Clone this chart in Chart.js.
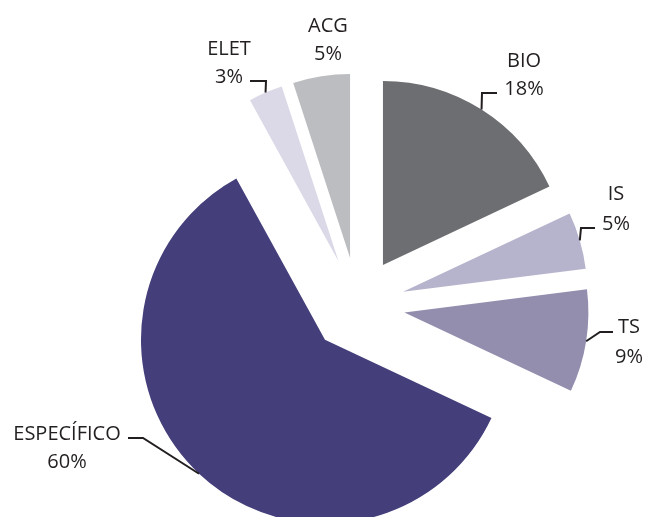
<!DOCTYPE html>
<html>
<head>
<meta charset="utf-8">
<script src="https://cdn.jsdelivr.net/npm/chart.js@4.4.0/dist/chart.umd.min.js"></script>
<style>
    html, body { margin: 0; padding: 0; background: #fff; }
    #contenedor { width: 651px; height: 517px; }
</style>
</head>
<body>
<div id="contenedor"><canvas id="chartAreas"></canvas></div>
<script>
// Datos de la gráfica (orden horario desde arriba)
const categorias = ['BIO', 'IS', 'TS', 'ESPECÍFICO', 'ELET', 'ACG'];
const porcentajes = [18, 5, 9, 60, 3, 5];
const etiquetas = ['18%', '5%', '9%', '60%', '3%', '5%'];

const colores = ['#6d6e71', '#b6b3cc', '#938dae', '#443f7b', '#dbd9e7', '#bcbdc0'];

const DESPLAZAMIENTO = 47.5; // separación de cada porción respecto al centro
const RADIO = 184;

// Posición de los textos y del codo de las líneas guía
const layoutEtiquetas = [
    { codo: [482, 93], fin: [497, 93], texto: [524, 67], salto: 28 },
    { codo: [581, 228], fin: [595, 228], texto: [616, 200], salto: 30 },
    { codo: [600, 332], fin: [613, 332], texto: [629, 333], salto: 30 },
    { codo: [143, 438], fin: [128, 438], texto: [67, 440], salto: 28 },
    { codo: [266, 81], fin: [250, 81], texto: [229, 55], salto: 28 },
    { codo: null, fin: null, texto: [328, 32], salto: 28 }
];

// Separa las porciones moviendo cada arco sobre su ángulo medio
const separar = {
    id: 'separar',
    afterDatasetsUpdate(chart) {
        const { chartArea } = chart;
        const cx = (chartArea.left + chartArea.right) / 2;
        const cy = (chartArea.top + chartArea.bottom) / 2;
        chart.getDatasetMeta(0).data.forEach(arc => {
            const medio = (arc.startAngle + arc.endAngle) / 2;
            arc.x = cx + Math.cos(medio) * DESPLAZAMIENTO;
            arc.y = cy + Math.sin(medio) * DESPLAZAMIENTO;
        });
    }
};

// Etiquetas con líneas guía
const rotulos = {
    id: 'rotulos',
    afterDraw(chart) {
        const ctx = chart.ctx;
        const arcs = chart.getDatasetMeta(0).data;
        ctx.save();
        ctx.strokeStyle = '#231f20';
        ctx.fillStyle = '#231f20';
        ctx.lineWidth = 2;
        ctx.font = '20px "Open Sans"';
        ctx.textAlign = 'center';
        ctx.textBaseline = 'alphabetic';
        arcs.forEach((arc, i) => {
            const l = layoutEtiquetas[i];
            if (l.codo) {
                const medio = (arc.startAngle + arc.endAngle) / 2;
                const x0 = arc.x + Math.cos(medio) * arc.outerRadius;
                const y0 = arc.y + Math.sin(medio) * arc.outerRadius;
                ctx.beginPath();
                ctx.moveTo(x0, y0);
                ctx.lineTo(l.codo[0], l.codo[1]);
                ctx.lineTo(l.fin[0], l.fin[1]);
                ctx.stroke();
            }
            ctx.fillText(categorias[i], l.texto[0], l.texto[1]);
            ctx.fillText(etiquetas[i], l.texto[0], l.texto[1] + l.salto);
        });
        ctx.restore();
    }
};

const ctx = document.getElementById('chartAreas').getContext('2d');

const chartAreas = new Chart(ctx, {
    type: 'pie',
    data: {
        labels: categorias,
        datasets: [{
            data: porcentajes,
            backgroundColor: colores,
            borderWidth: 0,
            offset: 0,
            radius: RADIO,
            clip: false
        }]
    },
    options: {
        responsive: true,
        maintainAspectRatio: false,
        animation: false,
        layout: { padding: { left: 64, right: 0, top: 93, bottom: 0 } },
        plugins: {
            legend: { display: false },
            tooltip: { enabled: false }
        }
    },
    plugins: [separar, rotulos]
});
</script>
</body>
</html>
